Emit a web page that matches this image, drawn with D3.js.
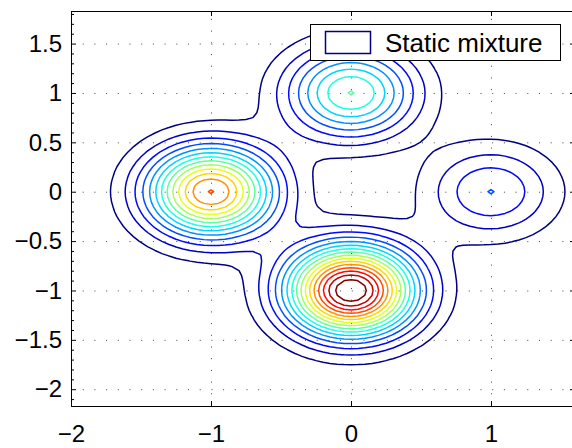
<!DOCTYPE html>
<html lang="en">
<head>
<meta charset="utf-8">
<script src="https://d3js.org/d3.v7.min.js"></script>
<style>
  body { margin: 0; background: white; }
  text { font-family: "Liberation Sans", Arial, sans-serif; fill: black; }
</style>
</head>
<body>
<script>
// mixture components (centre, peak height in contour steps, spread)
var centresX = [-1, 0, 0, 1];
var centresY = [0, 1, -1, 0];
var peaks = [13.06, 8.04, 17.0, 4.02];
var spread = [0.316, 0.316, 0.316, 0.316];
// contour levels (in the same steps as the peaks)
var levels = [1, 2, 3, 4, 5, 6, 7, 8, 9, 10, 11, 12, 13, 14, 15, 16];
var xTicks = [-2, -1, 0, 1];
var yTicks = [-2, -1.5, -1, -0.5, 0, 0.5, 1, 1.5];
var legendLabel = "Static mixture";

var w = 572, h = 448;
var axLeft = 71, axRight = 575, axTop = 11, axBottom = 406;

var svg = d3.select("body").append("svg").attr("width", w).attr("height", h);
svg.append("rect").attr("width", w).attr("height", h).attr("fill", "white");

var xScale = d3.scaleLinear().domain([-2, 1.6]).range([axLeft, axRight]);
var yScale = d3.scaleLinear().domain([-2.17, 1.83]).range([axBottom, axTop]);

// jet colour map like matlab, spread over the contour levels
function jet(t) {
  var c = function(v) { return Math.round(255 * Math.max(0, Math.min(1, v))); };
  return "rgb(" + c(1.5 - Math.abs(4 * t - 3)) + "," + c(1.5 - Math.abs(4 * t - 2)) + "," + c(1.5 - Math.abs(4 * t - 1)) + ")";
}
var levelColour = d3.scaleLinear().domain(d3.extent(levels)).range([0, 1]);

// sample the mixture on a grid
var step = 0.05, gx0 = -2.5, gy0 = -2.5, nx = 91, ny = 93;
var values = new Array(nx * ny);
for (var j = 0; j < ny; j++) {
  for (var i = 0; i < nx; i++) {
    var x = gx0 + i * step, y = gy0 + j * step, s = 0;
    for (var k = 0; k < peaks.length; k++) {
      var dx = x - centresX[k], dy = y - centresY[k];
      s += peaks[k] * Math.exp(-(dx * dx + dy * dy) / (2 * spread[k] * spread[k]));
    }
    values[i + j * nx] = s;
  }
}

var contours = d3.contours().size([nx, ny]).thresholds(levels)(values);

var proj = d3.geoTransform({point: function(px, py) {
  this.stream.point(xScale(gx0 + (px - 0.5) * step), yScale(gy0 + (py - 0.5) * step));
}});
var path = d3.geoPath(proj);

svg.append("clipPath").attr("id", "plot")
  .append("rect").attr("x", axLeft).attr("y", axTop).attr("width", axRight - axLeft).attr("height", axBottom - axTop);

// dotted grid
var grid = svg.append("g").attr("stroke", "#444").attr("stroke-width", 1).attr("stroke-dasharray", "1,10.7");
grid.selectAll(".gx").data(xTicks.slice(1)).enter().append("line")
  .attr("x1", d => xScale(d) + 0.5).attr("x2", d => xScale(d) + 0.5)
  .attr("y1", axBottom).attr("y2", axTop);
grid.selectAll(".gy").data(yTicks).enter().append("line")
  .attr("x1", axLeft).attr("x2", axRight)
  .attr("y1", d => yScale(d) + 0.5).attr("y2", d => yScale(d) + 0.5);

// contour lines
svg.append("g").attr("clip-path", "url(#plot)")
  .selectAll("path").data(contours).enter().append("path")
  .attr("d", path)
  .attr("fill", "none")
  .attr("stroke", d => jet(levelColour(d.value)))
  .attr("stroke-width", 1.5)
  .attr("stroke-linejoin", "round");

// axes with inward ticks
var fmt = d3.format("~g");
svg.append("g").attr("transform", "translate(0," + axBottom + ")")
  .call(d3.axisBottom(xScale).tickValues(xTicks).tickSize(-5).tickPadding(19).tickFormat(fmt))
  .call(g => g.select(".domain").remove())
  .call(g => g.selectAll("text").attr("font-size", 24).attr("font-family", "Liberation Sans, Arial, sans-serif"));
svg.append("g").attr("transform", "translate(0," + axTop + ")")
  .call(d3.axisTop(xScale).tickValues(xTicks).tickSize(-5).tickFormat(""))
  .call(g => g.select(".domain").remove());
svg.append("g").attr("transform", "translate(" + axLeft + ",0)")
  .call(d3.axisLeft(yScale).tickValues(yTicks).tickSize(-5).tickPadding(9).tickFormat(fmt))
  .call(g => g.select(".domain").remove())
  .call(g => g.selectAll("text").attr("font-size", 24).attr("font-family", "Liberation Sans, Arial, sans-serif"));
svg.append("g").attr("transform", "translate(" + axRight + ",0)")
  .call(d3.axisRight(yScale).tickValues(yTicks).tickSize(-5).tickFormat(""))
  .call(g => g.select(".domain").remove());

// minor ticks on y
var minor = d3.range(-21, 19).map(d => d / 10).filter(d => yTicks.indexOf(d) < 0);
svg.append("g").attr("stroke", "black").selectAll("line").data(minor).enter().append("line")
  .attr("x1", axLeft).attr("x2", axLeft + 3)
  .attr("y1", d => yScale(d) + 0.5).attr("y2", d => yScale(d) + 0.5);
svg.append("g").attr("stroke", "black").selectAll("line").data(minor).enter().append("line")
  .attr("x1", axRight).attr("x2", axRight - 3)
  .attr("y1", d => yScale(d) + 0.5).attr("y2", d => yScale(d) + 0.5);

// box
svg.append("rect").attr("x", axLeft + 0.5).attr("y", axTop + 0.5)
  .attr("width", axRight - axLeft).attr("height", axBottom - axTop)
  .attr("fill", "none").attr("stroke", "black").attr("stroke-width", 1);

// legend
var lg = svg.append("g");
lg.append("rect").attr("x", 310.5).attr("y", 24.5).attr("width", 250).attr("height", 36)
  .attr("fill", "white").attr("stroke", "black");
lg.append("rect").attr("x", 325.5).attr("y", 31.5).attr("width", 45).attr("height", 22)
  .attr("fill", "white").attr("stroke", jet(0)).attr("stroke-width", 1.5);
lg.append("text").attr("x", 385).attr("y", 52).attr("font-size", 26).text(legendLabel);
</script>
</body>
</html>
